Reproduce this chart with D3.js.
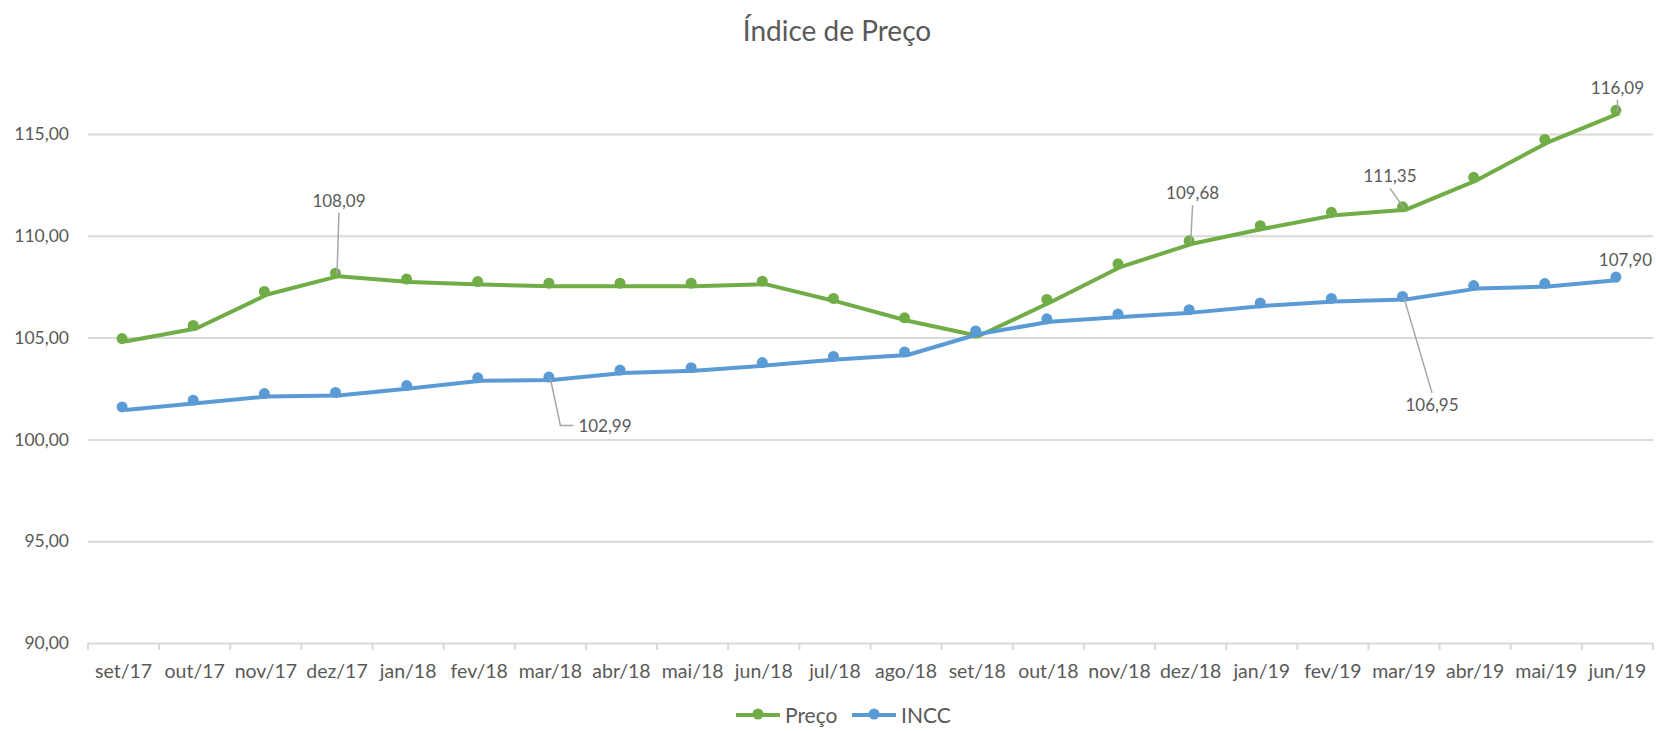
<!DOCTYPE html>
<html>
<head>
<meta charset="utf-8">
<script src="https://cdn.jsdelivr.net/npm/d3@7"></script>
<style>
  body { margin: 0; background: #fff; }
  svg text { font-family: Lato, "Open Sans", sans-serif; fill: #595959; }
</style>
</head>
<body>
<script>
// data
const months = ["set/17", "out/17", "nov/17", "dez/17", "jan/18", "fev/18", "mar/18", "abr/18",
  "mai/18", "jun/18", "jul/18", "ago/18", "set/18", "out/18", "nov/18", "dez/18", "jan/19",
  "fev/19", "mar/19", "abr/19", "mai/19", "jun/19"];
const preco = [104.88, 105.52, 107.19, 108.09, 107.80, 107.68, 107.60, 107.60, 107.60, 107.70,
  106.85, 105.90, 105.15, 106.80, 108.55, 109.68, 110.42, 111.08, 111.35, 112.80, 114.66, 116.09];
const incc = [101.52, 101.85, 102.18, 102.23, 102.57, 102.95, 102.99, 103.33, 103.45, 103.70,
  104.00, 104.22, 105.25, 105.85, 106.08, 106.30, 106.63, 106.85, 106.95, 107.48, 107.58, 107.90];
const yTicks = [90, 95, 100, 105, 110, 115];
const seriesNames = ["Preço", "INCC"];
const colors = ["#70AD47", "#5B9BD5"];

// which points carry a value label, and where the label sits relative to the point
const labels = [
  { s: 0, i: 3, dx: 2, dy: -62, leader: true },
  { s: 1, i: 6, dx: 31, dy: 47, leader: "elbow" },
  { s: 0, i: 15, dx: 2, dy: -37, leader: true },
  { s: 0, i: 18, dx: -14, dy: -20, leader: true },
  { s: 0, i: 21, dx: 0, dy: -12, leader: true },
  { s: 1, i: 21, dx: 8, dy: -7, leader: false },
  { s: 1, i: 18, dx: 28, dy: 97, leader: true }
];

const w = 1656, h = 731;
const m = { left: 88, right: 1653, top: 134, bottom: 643 };

const fmt = (v) => v.toFixed(2).replace(".", ",");

const svg = d3.select("body").append("svg")
  .attr("width", w)
  .attr("height", h);

const x = d3.scaleBand().domain(months).range([m.left, m.right]);
const y = d3.scaleLinear().domain([90, 115]).range([m.bottom, m.top]);
const cx = (i) => x(months[i]) + x.bandwidth() / 2;

// title
svg.append("text")
  .attr("x", 837)
  .attr("y", 41)
  .attr("text-anchor", "middle")
  .style("font-size", "28px")
  .text("Índice de Preço");

// y axis with gridlines
const yAxis = d3.axisLeft(y)
  .tickValues(yTicks)
  .tickSize(-(m.right - m.left))
  .tickPadding(19)
  .tickFormat(fmt);
const yg = svg.append("g")
  .attr("transform", "translate(" + m.left + ",0)")
  .call(yAxis);
yg.select(".domain").remove();
yg.selectAll(".tick line").attr("stroke", "#D9D9D9").attr("stroke-width", 2);
yg.selectAll(".tick text").style("font-size", "17.5px");

// x axis
const xAxis = d3.axisBottom(x).tickSize(0).tickPadding(21);
const xg = svg.append("g")
  .attr("transform", "translate(0," + m.bottom + ")")
  .call(xAxis);
xg.select(".domain").remove();
xg.selectAll(".tick text").style("font-size", "19.5px");

// tick marks between categories
const bounds = months.map((d) => x(d)).concat([x.range()[1]]);
svg.append("g").selectAll("line")
  .data(bounds)
  .enter()
  .append("line")
  .attr("x1", (d) => d)
  .attr("x2", (d) => d)
  .attr("y1", m.bottom)
  .attr("y2", m.bottom + 7)
  .attr("stroke", "#D9D9D9")
  .attr("stroke-width", 2);

// series
const line = d3.line().x((d, i) => cx(i)).y((d) => y(d));
[preco, incc].forEach((vals, s) => {
  svg.append("path")
    .datum(vals)
    .attr("d", line)
    .attr("transform", "translate(1.5,1.5)")
    .attr("fill", "none")
    .attr("stroke", colors[s])
    .attr("stroke-width", 4)
    .attr("stroke-linejoin", "round");

  svg.append("g")
    .attr("transform", "translate(-1.5,-1.5)")
    .selectAll("circle")
    .data(vals)
    .enter()
    .append("circle")
    .attr("cx", (d, i) => cx(i))
    .attr("cy", (d) => y(d))
    .attr("r", 5.5)
    .attr("fill", colors[s]);
});

// value labels + leader lines
const seriesVals = [preco, incc];
labels.forEach((l) => {
  const px = cx(l.i), py = y(seriesVals[l.s][l.i]);
  const tx = px + l.dx, ty = py + l.dy;
  if (l.leader === "elbow") {
    svg.append("polyline")
      .attr("points", [[px, py], [px + 10, ty], [tx - 8, ty]].map((p) => p.join(",")).join(" "))
      .attr("fill", "none")
      .attr("stroke", "#A6A6A6")
      .attr("stroke-width", 1.5);
    svg.append("text")
      .attr("x", tx - 3)
      .attr("y", ty + 6)
      .style("font-size", "17px")
      .text(fmt(seriesVals[l.s][l.i]));
  } else {
    if (l.leader) {
      svg.append("line")
        .attr("x1", px)
        .attr("y1", py)
        .attr("x2", tx)
        .attr("y2", ty + (l.dy < 0 ? 0 : -2))
        .attr("stroke", "#A6A6A6")
        .attr("stroke-width", 1.5);
    }
    svg.append("text")
      .attr("x", tx)
      .attr("y", l.dy < 0 ? ty - 6 : ty + 16)
      .attr("text-anchor", "middle")
      .style("font-size", "17px")
      .text(fmt(seriesVals[l.s][l.i]));
  }
});

// legend
const legendX = [736, 852];
seriesNames.forEach((name, s) => {
  const g = svg.append("g").attr("transform", "translate(" + legendX[s] + ",715)");
  g.append("line")
    .attr("x1", 0).attr("x2", 44)
    .attr("y1", 0).attr("y2", 0)
    .attr("stroke", colors[s])
    .attr("stroke-width", 4);
  g.append("circle")
    .attr("cx", 22).attr("cy", -1)
    .attr("r", 5.5)
    .attr("fill", colors[s]);
  g.append("text")
    .attr("x", 49)
    .attr("y", 8)
    .style("font-size", "21px")
    .text(name);
});
</script>
</body>
</html>
